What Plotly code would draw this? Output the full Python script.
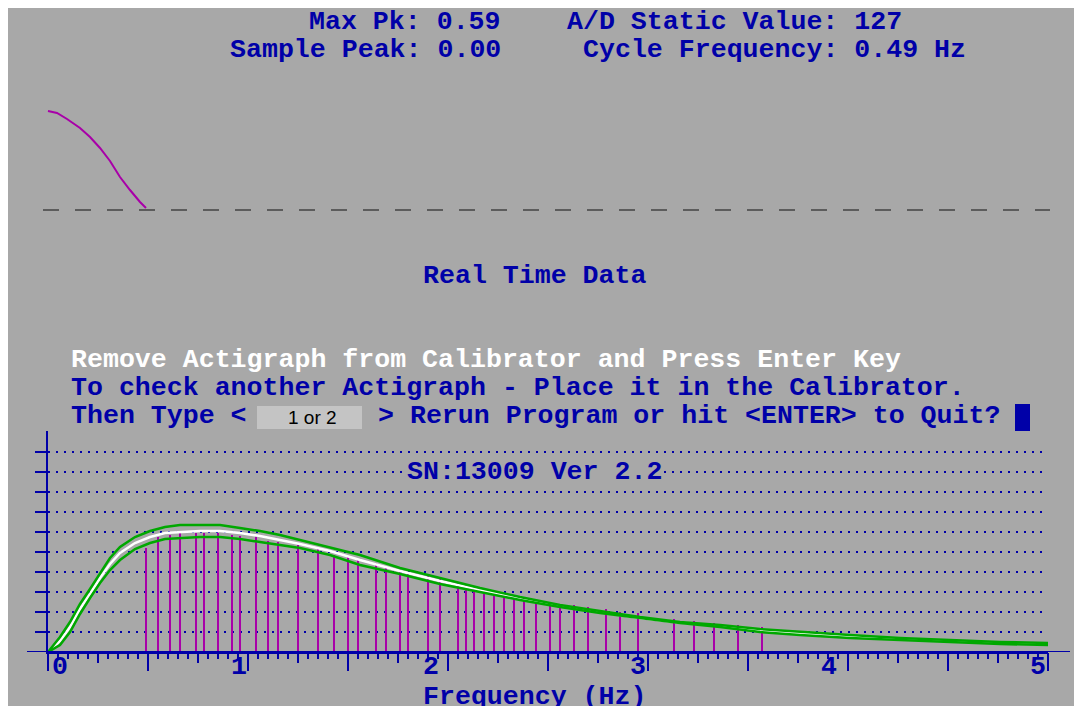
import plotly.graph_objects as go

# DATA ===================================================== #
# real time trace (top panel)
rt_sample = [0, 0.9, 1.9, 3.2, 4.2, 5.2, 6.2, 7.2, 8.2, 9.2, 9.8]
rt_value = [0.99, 0.97, 0.91, 0.82, 0.73, 0.62, 0.49, 0.33, 0.20, 0.08, 0.02]

# frequency response curves (bottom panel)
curve_freq = [0, 0.06, 0.11, 0.16, 0.21, 0.26, 0.31, 0.36, 0.435, 0.51, 0.585, 0.66,
              0.76, 0.86, 0.96, 1.06, 1.16, 1.26, 1.41, 1.56, 1.76, 1.96, 2.16, 2.36,
              2.56, 2.76, 2.96, 3.16, 3.36, 3.56, 3.76, 4.01, 4.26, 4.51, 4.76, 5.0]
upper_limit = [0, 0.075, 0.15, 0.24, 0.315, 0.395, 0.47, 0.525, 0.575, 0.605, 0.625, 0.635,
               0.635, 0.635, 0.62, 0.605, 0.585, 0.56, 0.525, 0.485, 0.42, 0.37, 0.32, 0.275,
               0.235, 0.205, 0.175, 0.15, 0.135, 0.115, 0.10, 0.085, 0.07, 0.06, 0.05, 0.045]
nominal = [0, 0.055, 0.125, 0.215, 0.29, 0.37, 0.44, 0.495, 0.545, 0.575, 0.595, 0.60,
           0.605, 0.605, 0.595, 0.58, 0.56, 0.54, 0.505, 0.46, 0.405, 0.355, 0.31, 0.27,
           0.23, 0.20, 0.17, 0.148, 0.13, 0.108, 0.092, 0.078, 0.065, 0.055, 0.045, 0.04]
lower_limit = [0, 0.035, 0.10, 0.19, 0.27, 0.345, 0.41, 0.46, 0.515, 0.545, 0.565, 0.57,
               0.575, 0.575, 0.565, 0.55, 0.535, 0.52, 0.485, 0.435, 0.39, 0.34, 0.30, 0.26,
               0.225, 0.195, 0.17, 0.145, 0.125, 0.10, 0.085, 0.07, 0.06, 0.05, 0.04, 0.035]

# measured peaks
peak_freq = [0.49, 0.55, 0.61, 0.66, 0.74, 0.78, 0.85, 0.92, 0.96, 1.04, 1.10, 1.15,
             1.25, 1.35, 1.43, 1.50, 1.55, 1.64, 1.69, 1.76, 1.80, 1.90, 1.96, 2.05,
             2.09, 2.13, 2.18, 2.23, 2.28, 2.33, 2.38, 2.44, 2.51, 2.56, 2.63, 2.70,
             2.79, 2.86, 2.95, 3.13, 3.23, 3.33, 3.45, 3.57]
peak_value = [0.52, 0.575, 0.585, 0.595, 0.595, 0.595, 0.595, 0.585, 0.58, 0.575, 0.555, 0.55,
              0.535, 0.515, 0.485, 0.475, 0.46, 0.445, 0.425, 0.405, 0.395, 0.385, 0.365, 0.35,
              0.34, 0.325, 0.315, 0.30, 0.295, 0.285, 0.27, 0.26, 0.245, 0.24, 0.235, 0.225,
              0.215, 0.20, 0.195, 0.165, 0.155, 0.145, 0.135, 0.125]

freq_labels = ['0', '1', '2', '3', '4', '5']
freq_label_shift = [12, -9, -17, -10, -19, -10]
grid_vals = [0.1, 0.2, 0.3, 0.4, 0.5, 0.6, 0.7, 0.8, 0.9, 1.0]

# COLORS ==================================================== #
colors = {
    'background': '#A8A8A8',
    'blue': '#0000A8',
    'magenta': '#A800A8',
    'green': '#00A800',
    'white': '#FFFFFF',
    'dash': '#5C5C5C',
}
OFF = 8  # page margin around the figure
W, H = 1082 - OFF, 706 - OFF  # fill the window exactly
FONT = 'Liberation Mono, DejaVu Sans Mono, monospace'


# page pixel -> paper coordinates
def px(x):
    return (x - OFF) / W


def py(y):
    return 1 - (y - OFF) / H


# TRACES ===================================================== #
stem_x, stem_y = [], []
for f, v in zip(peak_freq, peak_value):
    stem_x += [f, f, None]
    stem_y += [0, v, None]

fig = go.Figure()
fig.add_trace(go.Scatter(x=[-0.5, 100.2], y=[0, 0], mode='lines', xaxis='x2', yaxis='y2',
                         line=dict(color=colors['dash'], width=2, dash='16px,16px')))
fig.add_trace(go.Scatter(x=rt_sample, y=rt_value, mode='lines', xaxis='x2', yaxis='y2',
                         line=dict(color=colors['magenta'], width=2)))
fig.add_trace(go.Scatter(x=stem_x, y=stem_y, mode='lines',
                         line=dict(color=colors['magenta'], width=2)))
fig.add_trace(go.Scatter(x=curve_freq, y=nominal, mode='lines',
                         line=dict(color=colors['white'], width=2.5)))
fig.add_trace(go.Scatter(x=curve_freq, y=upper_limit, mode='lines',
                         line=dict(color=colors['green'], width=2.5)))
fig.add_trace(go.Scatter(x=curve_freq, y=lower_limit, mode='lines',
                         line=dict(color=colors['green'], width=2.5)))
# dummy trace so that the quarter-tick axis is drawn
fig.add_trace(go.Scatter(x=[0], y=[0], xaxis='x3', yaxis='y', mode='markers',
                         marker=dict(opacity=0), hoverinfo='skip'))


# TEXT ======================================================= #
def txt(s, x, y, anchor='left', color=colors['blue'], bg=None):
    fig.add_annotation(text='<b>%s</b>' % s, x=px(x), y=py(y), xref='paper', yref='paper',
                       xanchor=anchor, yanchor='middle', showarrow=False,
                       font=dict(family=FONT, size=26.6, color=color),
                       bgcolor=bg, borderpad=0)


txt('Max Pk: 0.59', 502, 22, 'right')
txt('Sample Peak: 0.00', 502, 50, 'right')
txt('A/D Static Value: 127', 566, 22)
txt('Cycle Frequency: 0.49 Hz', 582, 50)
txt('Real Time Data', 534, 276, 'center')
txt('Remove Actigraph from Calibrator and Press Enter Key', 70, 360, color=colors['white'])
txt('To check another Actigraph - Place it in the Calibrator.', 70, 388)
txt('Then Type <', 70, 416)
txt('> Rerun Program or hit &lt;ENTER&gt; to Quit?', 377, 416)
txt('SN:13009 Ver 2.2', 534, 472, 'center', bg=colors['background'])
txt('Frequency (Hz)', 534, 697, 'center')

fig.add_annotation(text='1 or 2', x=px(312), y=py(417), xref='paper', yref='paper',
                   showarrow=False, xanchor='center', yanchor='middle',
                   font=dict(family='Liberation Sans, Arial', size=19, color='#000000'))

for val, lab, shift in zip(range(6), freq_labels, freq_label_shift):
    fig.add_annotation(text='<b>%s</b>' % lab, x=val, y=py(667), xref='x', yref='paper',
                       xshift=shift, showarrow=False, xanchor='center', yanchor='middle',
                       font=dict(family=FONT, size=26.6, color=colors['blue']))

# SHAPES ===================================================== #
shapes = [
    dict(type='rect', xref='paper', yref='paper', x0=px(257), x1=px(362), y0=py(429), y1=py(406),
         fillcolor='#C4C4C4', line_width=0, layer='below'),
    dict(type='rect', xref='paper', yref='paper', x0=px(1015), x1=px(1030), y0=py(431), y1=py(404),
         fillcolor=colors['blue'], line_width=0),
    dict(type='line', xref='paper', yref='y', x0=px(27), x1=px(1070), y0=0, y1=0,
         line=dict(color=colors['blue'], width=2)),
]

# LAYOUT ===================================================== #
axis_blue = dict(color=colors['blue'], linecolor=colors['blue'], tickcolor=colors['blue'])
fig.update_layout(
    width=W, height=H,
    margin=dict(l=0, r=0, t=0, b=0),
    paper_bgcolor=colors['background'],
    plot_bgcolor=colors['background'],
    showlegend=False,
    shapes=shapes,
    xaxis=dict(domain=[px(48), px(1048)], range=[0, 5], anchor='y',
               showgrid=False, zeroline=False, showline=True, linewidth=2,
               ticks='outside', tick0=0, dtick=0.5, ticklen=17, tickwidth=2,
               showticklabels=False,
               minor=dict(ticks='outside', dtick=0.05, tick0=0, ticklen=5, tickwidth=2,
                          tickcolor=colors['blue'], showgrid=False),
               **axis_blue),
    xaxis3=dict(domain=[px(48), px(1048)], range=[0, 5], anchor='y', overlaying='x',
                showgrid=False, zeroline=False, showline=False,
                ticks='outside', tick0=0, dtick=0.25, ticklen=10, tickwidth=2,
                showticklabels=False, tickcolor=colors['blue']),
    yaxis=dict(domain=[py(652), py(431)], range=[0, 1.105], anchor='x',
               showline=True, linewidth=2, zeroline=False,
               tickmode='array', tickvals=grid_vals, ticks='outside', ticklen=11, tickwidth=2,
               showticklabels=False,
               showgrid=True, gridcolor=colors['blue'], gridwidth=2, griddash='2px,6px',
               **axis_blue),
    xaxis2=dict(domain=[px(43), px(1050)], range=[-0.5, 100.2], anchor='y2', visible=False),
    yaxis2=dict(domain=[py(230), py(90)], range=[-0.2, 1.2], anchor='x2', visible=False),
)

fig.write_html("out.html")
